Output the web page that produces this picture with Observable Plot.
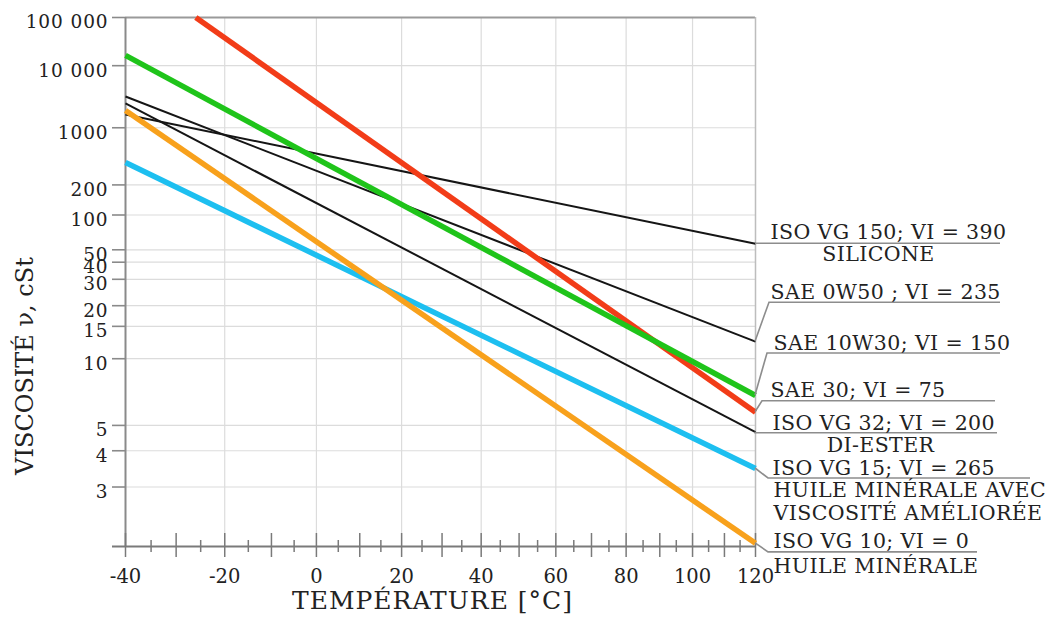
<!DOCTYPE html>
<html>
<head>
<meta charset="utf-8">
<script src="https://cdn.jsdelivr.net/npm/d3@7"></script>
<script src="https://cdn.jsdelivr.net/npm/@observablehq/plot@0.6"></script>
<style>
  html, body { margin: 0; background: #fff; }
  #chart svg { display: block; }
  #chart .callout text { letter-spacing: 0.4px; }
  #chart .xtitle text { letter-spacing: 1px; }
  #chart .yticks text { letter-spacing: 0.9px; }
</style>
</head>
<body>
<div id="chart"></div>
<script>
// Viscosity–temperature lines on a Walther chart:
// x ∝ log10(T in kelvin), y ∝ log10(log10(ν + 0.7)), so each oil is a straight line.

const grades = [
  "ISO VG 150; VI = 390",
  "SAE 0W50 ; VI = 235",
  "SAE 10W30; VI = 150",
  "SAE 30; VI = 75",
  "ISO VG 32; VI = 200",
  "ISO VG 15; VI = 265",
  "ISO VG 10; VI = 0"
];
const fluids = ["SILICONE", "", "", "", "DI-ESTER", "HUILE MINÉRALE AVEC\nVISCOSITÉ AMÉLIORÉE", "HUILE MINÉRALE"];

// end points of each line: temperature (°C) and kinematic viscosity (cSt)
const tempStart = [-40, -40, -40, -26, -40, -40, -40];
const viscStart = [1550, 2940, 15650, 100000, 2280, 358, 1780];
const tempEnd = [120, 120, 120, 120, 120, 120, 120];
const viscEnd = [56, 12.3, 6.68, 5.66, 4.7, 3.46, 2.04];

const yTicks = [3, 4, 5, 10, 15, 20, 30, 40, 50, 100, 200, 1000, 10000, 100000];
const yTickLabels = ["3", "4", "5", "10", "15", "20", "30", "40", "50", "100", "200", "1000", "10 000", "100 000"];
const xTicks = [-40, -20, 0, 20, 40, 60, 80, 100, 120];
const xGrid = [-20, 0, 20, 40, 60, 80, 100];
const xMajorTicks = [-40, -30, -20, -10, 0, 10, 20, 30, 40, 50, 60, 70, 80, 90, 100, 110, 120];
const xMinorTicks = [-35, -25, -15, -5, 5, 15, 25, 35, 45, 55, 65, 75, 85, 95, 105, 115];

// styling per line
const lineColors = ["#151515", "#151515", "#1fc41a", "#f23c18", "#151515", "#1dbff0", "#f8a11c"];
const lineWidths = [2, 2, 5.5, 5.5, 2, 5.5, 5.5];
const drawOrder = [0, 1, 4, 5, 6, 3, 2];

// callout layout, in pixels from the line end:
// [leader dx, leader dy, underline length, grade dx, grade dy, fluid dx, fluid dy, fluid anchor]
const callouts = [
  [0, 0, 245, 15, -5, 123, 17, "middle"],
  [14, -39, 231, 15, -43, 0, 0, "start"],
  [12, -42, 233, 18, -46, 0, 0, "start"],
  [7, -11, 233, 15, -15, 0, 0, "start"],
  [0, 1, 242, 17, -2, 125, 20, "middle"],
  [13, 10, 262, 17, 7, 18, 52, "start"],
  [13, 9, 209, 18, 5, 18, 30, "start"]
];

const kelvin = (t) => Math.log10(t + 273.15);
const walther = (v) => Math.log10(Math.log10(v + 0.7));

const rows = grades.flatMap((g, i) => [
  {grade: g, t: tempStart[i], v: viscStart[i]},
  {grade: g, t: tempEnd[i], v: viscEnd[i]}
]);
const ends = grades.map((g, i) => ({grade: g, fluid: fluids[i], t: tempEnd[i], v: viscEnd[i]}));

const serif = "'DejaVu Serif', 'Liberation Serif', serif";
const textColor = "#222";

const lineMarks = drawOrder.map((i) =>
  Plot.line(rows.filter((d) => d.grade === grades[i]), {
    x: "t", y: "v", stroke: lineColors[i], strokeWidth: lineWidths[i], strokeLinecap: "butt"
  })
);

const labelMarks = ends.flatMap((d, i) => {
  const c = callouts[i];
  const marks = [
    Plot.text([d], {x: "t", y: "v", text: "grade", dx: c[3], dy: c[4], textAnchor: "start",
      lineAnchor: "bottom", fontSize: 20.5, fill: textColor, fontFamily: serif, className: "callout"})
  ];
  if (d.fluid) marks.push(
    Plot.text([d], {x: "t", y: "v", text: "fluid", dx: c[5], dy: c[6], textAnchor: c[7],
      lineAnchor: "bottom", lineHeight: 1.13, fontSize: 20.5, fill: textColor, fontFamily: serif,
      className: "callout"})
  );
  return marks;
});

// leader + underline for every label
const leaders = Plot.dot(ends, {
  x: "t", y: "v", r: 0,
  render(index, scales, values) {
    const g = d3.create("svg:g")
      .attr("fill", "none").attr("stroke", "#8d8d8d").attr("stroke-width", 1.6);
    for (const i of index) {
      const x0 = values.x[i], y0 = values.y[i];
      const [lx, ly, len] = callouts[i];
      g.append("path").attr("d", `M${x0},${y0}L${x0 + lx},${y0 + ly}H${x0 + lx + len}`);
    }
    return g.node();
  }
});

const chart = Plot.plot({
  width: 1046,
  height: 619,
  marginLeft: 125,
  marginRight: 291,
  marginTop: 17,
  marginBottom: 73,
  style: {fontFamily: serif, fontSize: "20px", color: textColor, background: "#fff", overflow: "visible"},
  x: {type: "linear", transform: kelvin, domain: [kelvin(-40), kelvin(120)]},
  y: {type: "linear", transform: walther, domain: [walther(2), walther(100000)]},
  marks: [
    Plot.gridY(yTicks, {stroke: "#dcdcdc", strokeOpacity: 1, strokeWidth: 1.2}),
    Plot.gridX(xGrid, {stroke: "#dcdcdc", strokeOpacity: 1, strokeWidth: 1.2}),
    Plot.ruleY([100000], {stroke: "#9a9a9a", strokeWidth: 2}),
    Plot.ruleX([120], {stroke: "#bdbdbd", strokeWidth: 1.5}),
    Plot.ruleX([-40], {stroke: "#8a8a8a", strokeWidth: 2}),
    Plot.ruleY([2], {stroke: "#7a7a7a", strokeWidth: 2, insetLeft: -13}),
    // y ticks and labels
    Plot.axisY(yTicks, {tickSize: 13, stroke: "#8a8a8a", strokeWidth: 1.6, fill: "none", label: null}),
    Plot.axisY(yTicks, {tickSize: 13, tickPadding: 4, stroke: "none", fill: textColor, fontSize: 18.5,
      dy: 5, label: null, className: "yticks", tickFormat: (d) => yTickLabels[yTicks.indexOf(d)]}),
    // x ticks crossing the axis line
    Plot.ruleX(xMajorTicks, {y1: 2, y2: 2, insetTop: -13, insetBottom: -11, stroke: "#7a7a7a", strokeWidth: 1.5}),
    Plot.ruleX(xMinorTicks, {y1: 2, y2: 2, insetTop: -6, insetBottom: -6, stroke: "#7a7a7a", strokeWidth: 1.5}),
    Plot.axisX(xTicks, {tickSize: 0, tickPadding: 23, stroke: "none", fill: textColor, fontSize: 19.5,
      label: null, tickFormat: (d) => String(d)}),
    // axis titles
    Plot.text(["TEMPÉRATURE [°C]"], {frameAnchor: "bottom", textAnchor: "middle", dx: -8, dy: 62,
      lineAnchor: "bottom", fontSize: 25, fill: textColor, fontFamily: serif, className: "xtitle"}),
    Plot.text(["VISCOSITÉ ν, cSt"], {frameAnchor: "left", textAnchor: "middle", dx: -93, dy: 84,
      rotate: -90, lineAnchor: "bottom", fontSize: 24, fill: textColor, fontFamily: serif}),
    ...lineMarks,
    leaders,
    ...labelMarks
  ]
});

document.getElementById("chart").append(chart);
</script>
</body>
</html>
